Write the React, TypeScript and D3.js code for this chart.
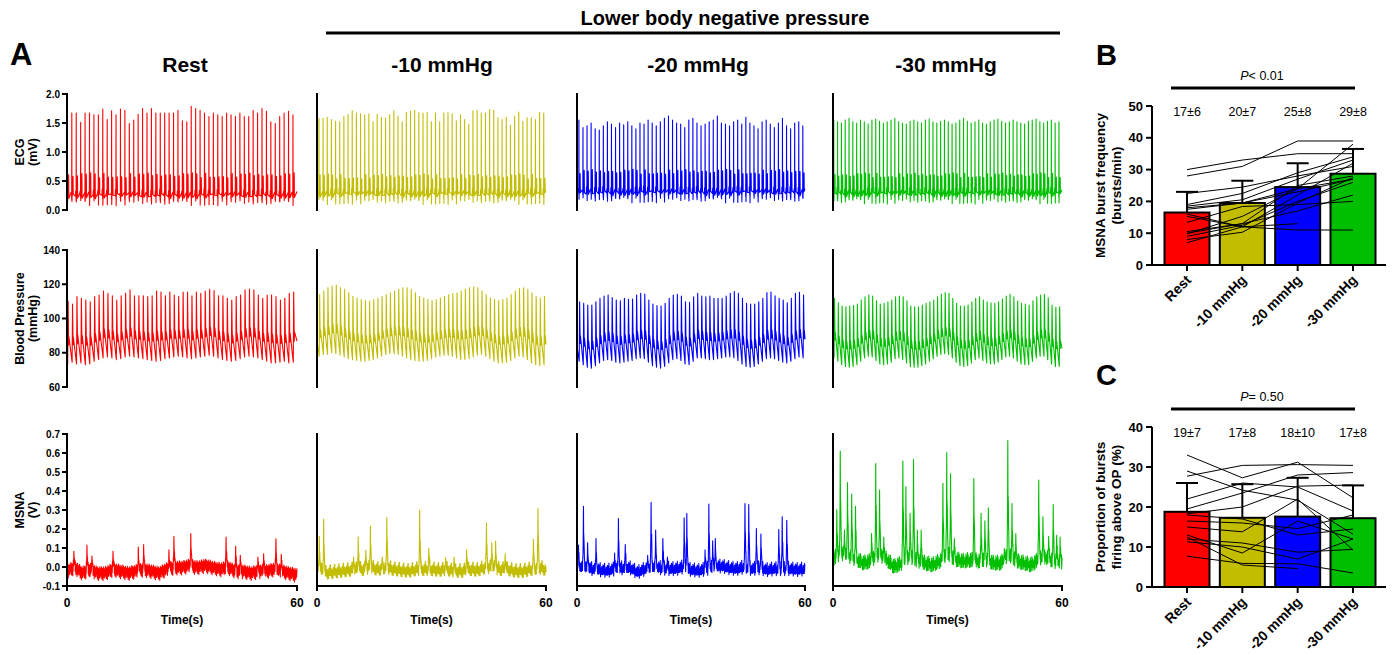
import * as d3 from "d3";

// ---- conditions ----
const conditions = ["Rest", "-10 mmHg", "-20 mmHg", "-30 mmHg"];
const colors = ["#ff0000", "#c3bd00", "#0000ff", "#00bf00"];

// ---- panel A: per-beat values ----
const ecgPeaks = [
  [1.64, 1.67, 1.67, 1.51, 1.67, 1.67, 1.64, 1.64, 1.74, 1.56, 1.71, 1.64, 1.74, 1.72, 1.49, 1.55, 1.65, 1.75, 1.67, 1.75, 1.67, 1.67, 1.67, 1.67, 1.67, 1.72, 1.54, 1.52, 1.79, 1.75, 1.72, 1.67, 1.61, 1.67, 1.64, 1.61, 1.67, 1.64, 1.61, 1.67, 1.61, 1.61, 1.72, 1.67, 1.75, 1.7, 1.52, 1.49, 1.61, 1.67, 1.7, 1.64],
  [1.58, 1.58, 1.6, 1.56, 1.53, 1.52, 1.61, 1.65, 1.71, 1.67, 1.66, 1.64, 1.66, 1.52, 1.65, 1.6, 1.59, 1.64, 1.71, 1.62, 1.52, 1.68, 1.7, 1.72, 1.68, 1.67, 1.68, 1.52, 1.67, 1.52, 1.67, 1.68, 1.66, 1.54, 1.64, 1.56, 1.48, 1.71, 1.72, 1.67, 1.67, 1.73, 1.72, 1.59, 1.56, 1.6, 1.46, 1.62, 1.69, 1.53, 1.59, 1.59, 1.56, 1.68, 1.67],
  [1.55, 1.42, 1.45, 1.5, 1.4, 1.38, 1.45, 1.52, 1.48, 1.42, 1.5, 1.47, 1.52, 1.45, 1.4, 1.5, 1.48, 1.55, 1.5, 1.45, 1.52, 1.58, 1.62, 1.55, 1.5, 1.48, 1.42, 1.55, 1.58, 1.5, 1.45, 1.48, 1.52, 1.55, 1.62, 1.5, 1.48, 1.45, 1.52, 1.55, 1.48, 1.6, 1.5, 1.45, 1.4, 1.52, 1.55, 1.48, 1.42, 1.5, 1.58, 1.45, 1.4, 1.5, 1.52, 1.45],
  [1.55, 1.52, 1.5, 1.55, 1.58, 1.52, 1.5, 1.55, 1.52, 1.48, 1.55, 1.57, 1.53, 1.5, 1.52, 1.55, 1.58, 1.52, 1.5, 1.48, 1.53, 1.55, 1.52, 1.5, 1.55, 1.57, 1.52, 1.5, 1.53, 1.55, 1.52, 1.48, 1.5, 1.55, 1.58, 1.53, 1.5, 1.52, 1.55, 1.5, 1.48, 1.52, 1.55, 1.57, 1.53, 1.5, 1.52, 1.55, 1.52, 1.5, 1.48, 1.53, 1.55, 1.57, 1.52, 1.5, 1.53, 1.55, 1.5, 1.52],
];
const ecgBaseline = [0.27, 0.29, 0.32, 0.3];
const ecgTWave = [0.6, 0.58, 0.66, 0.6];
const firstBeat = [0.1, 0.5, 0.5, 0.2]; // s

const bpSys = [
  [110.2, 108.5, 112.8, 111.8, 110.8, 109.8, 112.8, 113.7, 116.1, 114.7, 113.3, 110.8, 113.3, 114.7, 116.7, 113.3, 113.3, 113.3, 112.8, 113.3, 116.1, 115.5, 113.3, 115.5, 113.7, 112.8, 115.5, 115.5, 113.3, 115.5, 114.7, 116.1, 117.0, 116.3, 113.3, 113.3, 111.8, 110.8, 112.8, 113.7, 116.7, 117.0, 116.7, 113.7, 111.8, 113.7, 113.7, 112.8, 110.8, 111.8, 114.7, 115.5],
  [114, 116, 118, 119, 119.5, 118, 117, 115, 113, 112, 111, 110.5, 110, 111, 112, 113, 114, 115, 116, 117, 118, 118, 117, 115, 113, 112, 111, 110.5, 111, 112, 113, 114, 114.5, 115, 116, 117, 118, 118.5, 118, 116, 114, 112, 111, 110.5, 111, 112, 114, 116, 117.5, 118, 117, 115, 113, 112, 113],
  [109.8, 108.9, 107.9, 107.9, 109.8, 111.8, 113.1, 113.7, 112.3, 110.8, 110.4, 111.8, 111.2, 111.4, 113.7, 114.7, 114.3, 110.8, 108.5, 107.5, 107.3, 108.9, 111.8, 113.7, 114.1, 113.1, 109.8, 109.4, 112.7, 114.7, 113.1, 112.7, 113.1, 111.8, 111.8, 111.8, 113.1, 114.7, 115.7, 114.7, 111.8, 108.9, 108.5, 108.5, 109.8, 111.8, 115.1, 115.5, 113.3, 111.8, 110.8, 109.2, 111.8, 114.7, 115.3, 113.7],
  [111.8, 109.2, 107.3, 106.9, 107.3, 107.5, 108.5, 110.8, 112.7, 113.7, 113.1, 110.4, 108.5, 108.9, 109.8, 110.8, 112.7, 113.1, 112.7, 110.4, 107.3, 106.9, 106.9, 107.9, 108.9, 109.8, 110.8, 112.7, 114.3, 115.1, 114.7, 111.8, 108.9, 107.3, 107.3, 107.9, 109.8, 111.8, 112.7, 110.8, 109.8, 109.2, 108.9, 109.8, 111.4, 113.1, 114.1, 112.7, 110.2, 108.9, 108.5, 107.9, 110.4, 112.7, 113.7, 114.1, 112.1, 107.9, 106.5, 106.9],
];
const bpDia = [
  [73.5, 74.5, 73.5, 74, 73, 73.5, 75, 76, 77, 77.5, 77, 76, 76.5, 77.5, 78, 77.5, 77, 76.5, 76, 75.5, 75, 75.5, 76.5, 77, 77.5, 78, 77.5, 77, 76.5, 77, 77.5, 78, 78.5, 78, 77, 76, 75.5, 75, 75.5, 76.5, 77.5, 78, 77.5, 77, 76, 75, 74, 74, 74.5, 75, 74, 74.5],
  [78, 79, 79, 80, 79.5, 78.5, 77.5, 76.5, 76, 75.5, 75, 75, 75.5, 76, 77, 78, 79, 79.5, 79.5, 79, 78, 77, 76, 75.5, 75, 75, 75.5, 76.5, 77.5, 78, 78.5, 78.5, 78, 77, 76, 76, 76.5, 77.5, 78.5, 79, 78, 76.5, 75, 74, 74, 74.5, 75.5, 77, 78, 77.5, 76, 74, 73, 72.5, 73],
  [75, 73, 71.5, 71, 72.5, 74, 75.5, 76, 75.5, 74.5, 74, 74.5, 75, 75.5, 76.5, 77, 76.5, 74.5, 72.5, 71.5, 71, 72, 74, 76, 76.5, 75.5, 73.5, 73, 75, 77, 77, 76.5, 76, 76, 76.5, 77, 77.5, 77.5, 77, 75.5, 73.5, 72, 71.5, 72, 73.5, 75, 76.5, 77, 76.5, 75.5, 74.5, 74, 75, 76.5, 77.5, 77],
  [77, 75, 73, 72, 71.5, 72, 73, 75, 77, 78, 77.5, 75.5, 73.5, 73, 73.5, 74.5, 76.5, 77, 76, 74, 72, 71.5, 71.5, 72.5, 73.5, 75, 76.5, 78, 79, 79.5, 79, 77, 74.5, 72.5, 72, 72.5, 74, 76, 77, 75.5, 74, 73.5, 73.5, 74.5, 76, 77.5, 78, 77, 75, 73.5, 73, 73, 75, 77, 78, 78, 76, 73.5, 72, 72],
];

// MSNA bursts: [time (s), peak (V)]
const msnaBursts = [
  [[1.8, 0.083], [5.2, 0.115], [6.5, 0.058], [12, 0.083], [18.6, 0.105], [20, 0.118], [26.6, 0.09], [27.9, 0.162], [32.3, 0.176], [41.5, 0.158], [44, 0.109], [45.2, 0.062], [49.8, 0.053], [51.3, 0.07], [54.5, 0.148], [55.9, 0.067]],
  [[0.6, 0.162], [1.75, 0.252], [9.6, 0.053], [10.8, 0.158], [12.8, 0.088], [14, 0.215], [17.1, 0.053], [18.3, 0.259], [26.9, 0.3], [29.3, 0.099], [33.7, 0.048], [35.9, 0.053], [39.2, 0.09], [44.4, 0.233], [45.8, 0.127], [46.8, 0.136], [49.3, 0.07], [56.7, 0.146], [57.9, 0.308]],
  [[0.4, 0.115], [1.7, 0.32], [2.8, 0.127], [5, 0.15], [9.9, 0.074], [10.9, 0.255], [12.7, 0.118], [18.6, 0.062], [19.5, 0.34], [20.7, 0.194], [22.6, 0.15], [23.8, 0.053], [28.2, 0.259], [28.9, 0.282], [33.7, 0.09], [34.7, 0.331], [35.7, 0.138], [36.4, 0.15], [44.2, 0.334], [45.2, 0.329], [47.2, 0.202], [48.4, 0.173], [53.1, 0.197], [54, 0.264], [55.2, 0.246]],
  [[1, 0.303], [1.9, 0.61], [3, 0.194], [3.8, 0.445], [4.9, 0.384], [5.9, 0.32], [10.1, 0.176], [11.2, 0.545], [12.2, 0.405], [13.3, 0.158], [18.3, 0.558], [19.1, 0.422], [20.2, 0.282], [21.1, 0.566], [22.1, 0.194], [23.1, 0.194], [28.8, 0.44], [29.8, 0.603], [30.8, 0.49], [31.8, 0.15], [36.9, 0.466], [38.8, 0.282], [39.8, 0.243], [40.7, 0.311], [44.9, 0.097], [45.8, 0.665], [46.9, 0.334], [47.9, 0.176], [53.9, 0.457], [55, 0.264], [56.5, 0.162], [57.7, 0.329], [58.6, 0.167], [59.5, 0.158]],
];
// MSNA baseline, one reading every 2 s
const msnaBaseTimes = d3.range(0, 61, 2);
const msnaBaseline = [
  [-0.02, 0, -0.03, -0.01, -0.03, -0.03, -0.01, -0.02, -0.03, -0.02, -0.01, -0.02, -0.03, -0.01, 0, 0, 0.01, 0, 0.01, 0, -0.01, 0, -0.02, -0.02, -0.03, -0.02, -0.02, -0.01, -0.02, -0.03, -0.04],
  [0, -0.03, -0.025, -0.02, -0.015, -0.01, -0.01, 0, -0.01, 0, -0.01, -0.015, -0.02, -0.01, -0.01, -0.01, -0.015, -0.01, -0.02, -0.02, -0.01, -0.015, 0, 0, -0.01, -0.01, -0.02, -0.02, -0.01, 0, -0.01],
  [0, 0, -0.01, -0.015, -0.02, -0.01, -0.005, -0.005, -0.028, -0.01, 0, -0.005, -0.01, -0.01, 0, -0.015, -0.02, -0.01, 0, 0.005, -0.005, -0.01, 0, -0.01, -0.005, -0.015, -0.01, -0.01, -0.01, -0.015, -0.01],
  [0.04, 0.07, 0.06, 0.04, 0.02, 0.03, 0.06, 0.04, 0, 0.02, 0.05, 0.03, 0.02, 0.01, 0.03, 0.07, 0.04, 0.03, 0.035, 0.03, 0.04, 0.02, 0.02, 0.06, 0.03, 0.02, 0.01, 0.04, 0.05, 0.03, 0.02],
];
// small fixed ripple pattern laid over the baselines
const ripple = [0.012, -0.018, 0.025, -0.006, -0.022, 0.015, 0.004, -0.027, 0.02, -0.01, 0.028, -0.015, -0.004, 0.018, -0.024, 0.009, -0.012, 0.022, -0.02, 0.006, 0.016, -0.028, 0.01];

// ---- panels B and C ----
const freqMean = [16.5, 19.5, 24.5, 28.7];
const freqSD = [6.5, 7, 7.5, 7.8];
const freqLabels = ["17±6", "20±7", "25±8", "29±8"];
const freqSubjects = [
  [30, 33, 35, 35], [28, 31, 39, 39], [22.5, 24.5, 28, 31], [19, 22.5, 29, 34],
  [18.5, 20.5, 27, 33], [18, 19.5, 24, 38], [17.5, 19.5, 23, 27], [16, 12, 22, 32],
  [15.3, 12, 11, 11], [13.4, 18.4, 19, 20], [10.5, 13, 17, 22], [10, 13, 25, 28],
  [9, 12.5, 20, 26], [8, 10.3, 19.5, 27.5], [7, 12, 13, null], [9.8, 15.3, 24, 27],
];
const propMean = [18.8, 17.3, 17.6, 17.2];
const propSD = [7.2, 8.4, 9.7, 8.2];
const propLabels = ["19±7", "17±8", "18±10", "17±8"];
const propSubjects = [
  [33, 27.3, 31.2, 22.3], [27.7, 30.4, 30.6, 30.4], [29, 24.2, 21.7, 13.2], [19.5, 23.5, 28, 28.6],
  [18.3, 20, 25.2, 25.5], [16.5, 16, 14.6, 18], [15, 13.8, 22, 9.2], [13, 8.5, 16.5, 12],
  [12, 11, 8.7, 9.4], [11.3, 10, 7, 12], [7.7, 5.9, 5.8, 3.5], [12.5, 5.5, 4.6, null],
  [18, 17, 13, 14.5], [22, 26, 25, 19],
];

const FONT = "'Liberation Sans', Arial, Helvetica, sans-serif";

// waveform templates (offset s, value)
const ecgTemplate: [number, number | string][] = [
  [-0.22, 0], [-0.14, 0.05], [-0.07, 0], [-0.03, -0.07], [0, "R"], [0.03, -0.15],
  [0.08, 0], [0.27, 0.03], [0.32, "T"], [0.38, -0.03],
];
const burstShape = d3.scaleLinear()
  .domain([-0.22, -0.1, -0.04, 0, 0.06, 0.12, 0.22, 0.36])
  .range([0, 0.3, 0.55, 1, 0.45, 0.55, 0.2, 0])
  .clamp(true);

function ecgSeries(ci: number) {
  const peaks = ecgPeaks[ci];
  const rr = 60 / peaks.length;
  const base = ecgBaseline[ci];
  const pts: [number, number][] = [[0, base]];
  let k = ci * 5;
  peaks.forEach((r, i) => {
    const tR = firstBeat[ci] + i * rr;
    ecgTemplate.forEach(([dt, v]) => {
      const t = tR + dt;
      if (t <= 0 || t >= 60) return;
      let y: number;
      if (v === "R") y = r;
      else if (v === "T") y = ecgTWave[ci] + ripple[k % ripple.length] * 1.5;
      else y = base + (v as number) + ripple[k % ripple.length] * 1.6;
      k++;
      pts.push([t, y]);
    });
  });
  pts.push([60, base + 0.05]);
  return pts;
}

function bpSeries(ci: number) {
  const sys = bpSys[ci], dia = bpDia[ci];
  const rr = 60 / sys.length;
  const pts: [number, number][] = [[0, dia[0] + 0.25 * (sys[0] - dia[0])]];
  sys.forEach((s, i) => {
    const tf = firstBeat[ci] + i * rr + 0.08;
    const d = dia[i];
    const pp = s - d;
    const knots: [number, number][] = [
      [tf, d], [tf + 0.11, s], [tf + 0.26, d + 0.3 * pp], [tf + 0.33, d + 0.43 * pp],
    ];
    knots.forEach(p => { if (p[0] > 0 && p[0] < 60) pts.push(p); });
  });
  const last = sys.length - 1;
  pts.push([60, bpDia[ci][last] + 0.3 * (sys[last] - bpDia[ci][last])]);
  return pts;
}

function msnaSeries(ci: number) {
  const base = d3.scaleLinear().domain(msnaBaseTimes).range(msnaBaseline[ci]);
  const bursts = msnaBursts[ci];
  const n = ripple.length;
  const times = d3.range(0, 60.0001, 0.05).concat(bursts.map(b => b[0])).sort((a, b) => a - b);
  return times.map((t, k) => {
    let v = base(t);
    let peak = 0;
    bursts.forEach(([tb, a]) => {
      const s = burstShape(t - tb);
      if (s > 0) v += (a - base(tb)) * s;
      peak = Math.max(peak, s);
    });
    const r = ripple[(k + ci * 7) % n] + 0.6 * ripple[(k * 5 + ci * 3 + 2) % n];
    v += r * (1 - peak);
    return [t, v] as [number, number];
  });
}

const panelX = [[67, 297], [317, 546], [577, 805], [833, 1062]];
const titleX = [185, 442, 698, 946];

export default function App() {
  const ecgY = d3.scaleLinear().domain([0, 2]).range([210, 94]);
  const bpY = d3.scaleLinear().domain([60, 140]).range([387, 250]);
  const msnaY = d3.scaleLinear().domain([-0.1, 0.7]).range([586, 434]);

  const rows = [
    { y: ecgY, ticks: [0, 0.5, 1, 1.5, 2], fmt: (v: number) => v.toFixed(1), series: ecgSeries, label: ["ECG", "(mV)"] },
    { y: bpY, ticks: [60, 80, 100, 120, 140], fmt: (v: number) => String(v), series: bpSeries, label: ["Blood Pressure", "(mmHg)"] },
    { y: msnaY, ticks: [-0.1, 0, 0.1, 0.2, 0.3, 0.4, 0.5, 0.6, 0.7], fmt: (v: number) => v.toFixed(1), series: msnaSeries, label: ["MSNA", "(V)"] },
  ];

  const xCat = d3.scalePoint<string>().domain(conditions).range([1187, 1353]);
  const barW = 45;

  const barPanel = (
    key: string, yScale: d3.ScaleLinear<number, number>, ticks: number[], means: number[], sds: number[],
    labels: string[], subjects: (number | null)[][], pText: string, letter: string, letterY: number,
    pY: number, ylab: string[]
  ) => {
    const y0 = yScale(0);
    const yTop = yScale(ticks[ticks.length - 1]);
    const line = d3.line<number | null>()
      .defined(d => d != null)
      .x((_, i) => xCat(conditions[i]) as number)
      .y(d => yScale(d as number));
    return (
      <g key={key}>
        <text x={1096} y={letterY} fontSize={29} fontWeight="bold">{letter}</text>
        <line x1={1171} x2={1355} y1={pY} y2={pY} stroke="#000" strokeWidth={3} />
        <text x={1262} y={pY - 8} fontSize={12.5} textAnchor="middle">
          <tspan fontStyle="italic">P</tspan>{pText}
        </text>
        {labels.map((l, i) => (
          <text key={l + i} x={xCat(conditions[i])} y={yTop + 10} fontSize={12.5} textAnchor="middle">{l}</text>
        ))}
        {means.map((m, i) => {
          const cx = xCat(conditions[i]) as number;
          return (
            <g key={i}>
              <line x1={cx} x2={cx} y1={yScale(m)} y2={yScale(m + sds[i])} stroke="#000" strokeWidth={2} />
              <line x1={cx - 11} x2={cx + 11} y1={yScale(m + sds[i])} y2={yScale(m + sds[i])} stroke="#000" strokeWidth={2} />
              <rect x={cx - barW / 2} y={yScale(m)} width={barW} height={y0 - yScale(m)} fill={colors[i]} stroke="#000" strokeWidth={2} />
            </g>
          );
        })}
        {subjects.map((s, i) => (
          <path key={i} d={line(s) || ""} fill="none" stroke="#000" strokeWidth={1} />
        ))}
        <line x1={1152} x2={1152} y1={yTop} y2={y0 + 1} stroke="#000" strokeWidth={2} />
        <line x1={1151} x2={1386} y1={y0} y2={y0} stroke="#000" strokeWidth={2} />
        {ticks.map(t => (
          <g key={t}>
            <line x1={1146} x2={1152} y1={yScale(t)} y2={yScale(t)} stroke="#000" strokeWidth={2} />
            <text x={1143} y={yScale(t)} dy="0.36em" fontSize={13} fontWeight="bold" textAnchor="end">{t}</text>
          </g>
        ))}
        {conditions.map(c => {
          const cx = xCat(c) as number;
          return (
            <g key={c}>
              <line x1={cx} x2={cx} y1={y0} y2={y0 + 6} stroke="#000" strokeWidth={2} />
              <text transform={`translate(${cx + 5},${y0 + 16}) rotate(-45)`} fontSize={14} fontWeight="bold" textAnchor="end">{c}</text>
            </g>
          );
        })}
        <text transform={`translate(1105,${(y0 + yTop) / 2}) rotate(-90)`} fontSize={13.5} fontWeight="bold" textAnchor="middle">{ylab[0]}</text>
        <text transform={`translate(1121,${(y0 + yTop) / 2}) rotate(-90)`} fontSize={13.5} fontWeight="bold" textAnchor="middle">{ylab[1]}</text>
      </g>
    );
  };

  return (
    <svg width={1393} height={655} style={{ position: "fixed", left: 0, top: 0, background: "#fff" }} fontFamily={FONT}>
      <rect width={1393} height={655} fill="#fff" />
      <text x={10} y={65} fontSize={31} fontWeight="bold">A</text>
      <text x={725} y={25} fontSize={20} fontWeight="bold" textAnchor="middle">Lower body negative pressure</text>
      <line x1={326} x2={1060} y1={33} y2={33} stroke="#000" strokeWidth={3} />
      {conditions.map((c, i) => (
        <text key={c} x={titleX[i]} y={72} fontSize={21} fontWeight="bold" textAnchor="middle">{c}</text>
      ))}

      {rows.map((row, ri) => {
        const [yBottom, yTopPx] = row.y.range();
        const mid = (yBottom + yTopPx) / 2;
        return (
          <g key={ri}>
            <text transform={`translate(24,${mid}) rotate(-90)`} fontSize={12.5} fontWeight="bold" textAnchor="middle">{row.label[0]}</text>
            <text transform={`translate(37,${mid}) rotate(-90)`} fontSize={12.5} fontWeight="bold" textAnchor="middle">{row.label[1]}</text>
            {conditions.map((c, ci) => {
              const [x0, x1] = panelX[ci];
              const x = d3.scaleLinear().domain([0, 60]).range([x0, x1]);
              const gen = d3.line<[number, number]>().x(d => x(d[0])).y(d => row.y(d[1]));
              return (
                <g key={c}>
                  <path d={gen(row.series(ci)) || ""} fill="none" stroke={colors[ci]} strokeWidth={1.1} strokeLinejoin="round" />
                  <line x1={x0} x2={x0} y1={yTopPx - 1} y2={yBottom + 1} stroke="#000" strokeWidth={2} />
                  {ci === 0 && row.ticks.map(t => (
                    <g key={t}>
                      <line x1={x0 - 5} x2={x0} y1={row.y(t)} y2={row.y(t)} stroke="#000" strokeWidth={2} />
                      <text x={x0 - 7} y={row.y(t)} dy="0.36em" fontSize={10} fontWeight="bold" textAnchor="end">{row.fmt(t)}</text>
                    </g>
                  ))}
                  {ri === 2 && (
                    <g>
                      <line x1={x0 - 1} x2={x1 + 1} y1={yBottom} y2={yBottom} stroke="#000" strokeWidth={2} />
                      {[0, 60].map(t => (
                        <g key={t}>
                          <line x1={x(t)} x2={x(t)} y1={yBottom} y2={yBottom + 5} stroke="#000" strokeWidth={2} />
                          <text x={x(t)} y={yBottom + 21} fontSize={12} fontWeight="bold" textAnchor="middle">{t}</text>
                        </g>
                      ))}
                      <text x={(x0 + x1) / 2} y={yBottom + 38} fontSize={12} fontWeight="bold" textAnchor="middle">Time(s)</text>
                    </g>
                  )}
                </g>
              );
            })}
          </g>
        );
      })}

      {barPanel("B", d3.scaleLinear().domain([0, 50]).range([265, 106]), [0, 10, 20, 30, 40, 50],
        freqMean, freqSD, freqLabels, freqSubjects, "< 0.01", "B", 65, 88,
        ["MSNA burst frequency", "(bursts/min)"])}
      {barPanel("C", d3.scaleLinear().domain([0, 40]).range([587, 427]), [0, 10, 20, 30, 40],
        propMean, propSD, propLabels, propSubjects, "= 0.50", "C", 385, 409,
        ["Proportion of bursts", "firing above OP (%)"])}
    </svg>
  );
}
